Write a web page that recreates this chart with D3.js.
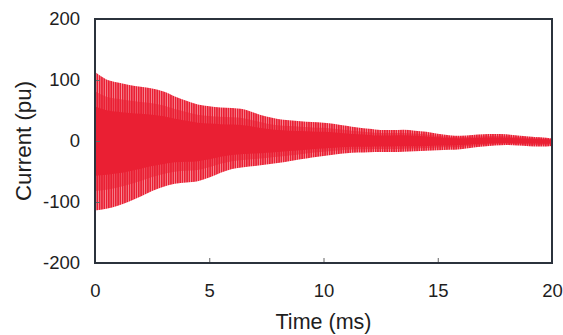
<!DOCTYPE html>
<html><head><meta charset="utf-8">
<script src="https://cdn.jsdelivr.net/npm/d3@7"></script>
<style>
html,body{margin:0;padding:0;background:#fff;}
svg{display:block;}
text{font-family:"Liberation Sans",Arial,sans-serif;fill:#1e1e1e;}
</style></head>
<body><svg id="chart" width="563" height="335"></svg>
<script>
// Envelope of the current waveform (every 0.5 ms)
const timeMs = [0,0.5,1,1.5,2,2.5,3,3.5,4,4.5,5,5.5,6,6.5,7,7.5,8,8.5,9,9.5,10,10.5,11,11.5,12,12.5,13,13.5,14,14.5,15,15.5,16,16.5,17,17.5,18,18.5,19,19.5,20];
const upperPeak = [113,101,96,92,89,86,81,73,66,60,57,55,54,52,46,40,36,34,32.5,31,30,28,25,22,20,18,18,18.5,17,15,12,9.5,8.5,10,11,11.5,11,9,7.5,6,4];
const lowerPeak = [-114,-111,-106,-99,-91,-82,-75,-70,-68,-66,-60,-52,-46,-43,-41,-38.5,-36,-33,-30,-27,-24.5,-22,-20,-19,-18.5,-18,-18,-17.5,-17,-16,-15,-14.5,-13.5,-11,-9,-7.5,-6.5,-7.5,-8.5,-9,-8];
const xTicks = [0,5,10,15,20];
const yTicks = [-200,-100,0,100,200];

const svg = d3.select("#chart");
const L = 95, R = 552, T = 19, B = 263;
const x = d3.scaleLinear().domain([0,20]).range([L,R]);
const y = d3.scaleLinear().domain([-200,200]).range([B,T]);

const red = "#ea1f33";
const defs = svg.append("defs");
const pat = defs.append("pattern").attr("id","stripes").attr("patternUnits","userSpaceOnUse")
  .attr("width",2.3).attr("height",10);
pat.append("rect").attr("width",2.3).attr("height",10).attr("fill","#f59aa4");
pat.append("rect").attr("width",1.6).attr("height",10).attr("fill",red);
const pat2 = defs.append("pattern").attr("id","stripes2").attr("patternUnits","userSpaceOnUse")
  .attr("width",2.3).attr("height",10);
pat2.append("rect").attr("width",2.3).attr("height",10).attr("fill","#f0606f");
pat2.append("rect").attr("width",1.7).attr("height",10).attr("fill",red);

const data = timeMs.map((t,i)=>({t, hi: upperPeak[i], lo: lowerPeak[i]}));
const coreRatio = 0.5;
const midRatio = 0.72;

svg.append("path").datum(data)
  .attr("d", d3.area().x(d=>x(d.t)).y0(d=>y(d.lo)).y1(d=>y(d.hi)).curve(d3.curveMonotoneX))
  .attr("fill","url(#stripes)");
svg.append("path").datum(data)
  .attr("d", d3.area().x(d=>x(d.t)).y0(d=>y(d.lo*midRatio)).y1(d=>y(d.hi*midRatio)).curve(d3.curveMonotoneX))
  .attr("fill","url(#stripes2)");
svg.append("path").datum(data)
  .attr("d", d3.area().x(d=>x(d.t)).y0(d=>y(d.lo*coreRatio)).y1(d=>y(d.hi*coreRatio)).curve(d3.curveMonotoneX))
  .attr("fill",red);

// axes
const fmt = d => String(d);
const gx = svg.append("g").attr("transform",`translate(0,${B})`)
  .call(d3.axisBottom(x).tickValues(xTicks).tickSize(-5).tickPadding(21).tickFormat(fmt));
const gy = svg.append("g").attr("transform",`translate(${L},0)`)
  .call(d3.axisLeft(y).tickValues(yTicks).tickSize(-5).tickPadding(15).tickFormat(fmt));
[gx,gy].forEach(g=>{
  g.select(".domain").remove();
  g.selectAll(".tick line").attr("stroke","#666").attr("stroke-width",1);
  g.selectAll(".tick text").attr("font-size",18.5).attr("fill","#1e1e1e").style("font-family","Liberation Sans, Arial, sans-serif");
});

// frame
svg.append("rect").attr("x",L).attr("y",T).attr("width",R-L).attr("height",B-T)
  .attr("fill","none").attr("stroke","#2b323c").attr("stroke-width",2);

svg.append("text").attr("x",(L+R)/2).attr("y",329).attr("text-anchor","middle")
  .attr("font-size",21.5).text("Time (ms)");
svg.append("text").attr("transform",`translate(31,${(T+B)/2}) rotate(-90)`).attr("text-anchor","middle")
  .attr("font-size",22.3).text("Current (pu)");
</script></body></html>
